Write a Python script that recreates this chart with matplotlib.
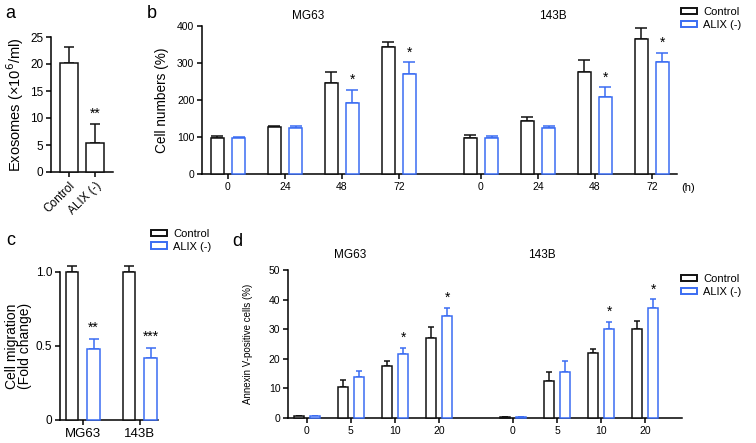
import matplotlib
matplotlib.use("Agg")
import matplotlib.pyplot as plt
import numpy as np
from matplotlib.patches import Patch
from matplotlib.transforms import blended_transform_factory

plt.rcParams["font.family"] = ["Liberation Sans", "DejaVu Sans"]
plt.rcParams["font.size"] = 8

W, H = 756, 443
BLUE = "#3a6cf2"
BLACK = "#111111"

# panel a
exo_labels = ["Control", "ALIX (-)"]
exo_mean = [20.2, 5.4]
exo_err = [2.9, 3.4]

# panel b
hours = ["0", "24", "48", "72"]
b_mg63_ctrl = [98, 126, 247, 344]
b_mg63_ctrl_err = [5, 5, 29, 14]
b_mg63_alix = [98, 124, 192, 270]
b_mg63_alix_err = [3, 5, 36, 32]
b_143b_ctrl = [98, 144, 277, 366]
b_143b_ctrl_err = [7, 10, 30, 29]
b_143b_alix = [98, 123, 207, 302]
b_143b_alix_err = [5, 8, 27, 25]

# panel c
c_lines = ["MG63", "143B"]
c_ctrl = [1.0, 1.0]
c_ctrl_err = [0.04, 0.04]
c_alix = [0.48, 0.42]
c_alix_err = [0.067, 0.068]
c_stars = ["**", "***"]

# panel d
doses = ["0", "5", "10", "20"]
d_mg63_ctrl = [0.8, 10.4, 17.4, 27.0]
d_mg63_ctrl_err = [0.0, 2.6, 1.7, 3.6]
d_mg63_alix = [0.8, 14.0, 21.5, 34.6]
d_mg63_alix_err = [0.0, 2.0, 2.3, 2.5]
d_143b_ctrl = [0.5, 12.5, 22.0, 30.0]
d_143b_ctrl_err = [0.0, 2.9, 1.4, 2.7]
d_143b_alix = [0.5, 15.4, 30.2, 37.2]
d_143b_alix_err = [0.0, 3.8, 2.3, 2.9]


def px_axes(fig, x0, y0, x1, y1):
    return fig.add_axes([x0 / W, 1 - y1 / H, (x1 - x0) / W, (y1 - y0) / H])


def style(ax, labelsize):
    for s in ("top", "right"):
        ax.spines[s].set_visible(False)
    for s in ("left", "bottom"):
        ax.spines[s].set_linewidth(1.1)
    ax.tick_params(width=1.1, length=3.5, labelsize=labelsize, pad=2)


def bars(ax, x, y, err, color, width, cap):
    ax.bar(x, y, width=width, facecolor="white", edgecolor=color, linewidth=1.1, clip_on=False, zorder=3)
    err = np.asarray(err)
    ax.errorbar(x, y, yerr=[np.zeros_like(err), err], fmt="none", ecolor=color,
                elinewidth=1.1, capsize=cap, capthick=1.1, clip_on=False, zorder=2)


def legend(fig, x, y):
    handles = [Patch(facecolor="white", edgecolor=BLACK, linewidth=1.4, label="Control"),
               Patch(facecolor="white", edgecolor=BLUE, linewidth=1.4, label="ALIX (-)")]
    fig.legend(handles=handles, loc="upper left", bbox_to_anchor=(x / W, 1 - y / H), frameon=False,
               fontsize=8, handlelength=1.4, handleheight=0.55, handletextpad=0.6,
               labelspacing=0.25, borderaxespad=0, borderpad=0)


fig = plt.figure(figsize=(W / 100, H / 100), dpi=100)

# ---- a
ax = px_axes(fig, 51, 37, 113, 172)
style(ax, 8.5)
xa = np.arange(len(exo_mean))
bars(ax, xa, exo_mean, exo_err, BLACK, 0.68, 3.3)
ax.set_xlim(-0.7, 1.7)
ax.set_ylim(0, 25)
ax.set_yticks(range(0, 26, 5))
ax.set_xticks(xa)
ax.set_xticklabels(exo_labels, rotation=45, ha="right", rotation_mode="anchor")
ax.set_ylabel("Exosomes (×10$^{6}$/ml)", fontsize=10.5, labelpad=3)
ax.text(xa[1], exo_mean[1] + exo_err[1] + 0.6, "**", ha="center", va="bottom", fontsize=10)

# ---- b
ax = px_axes(fig, 202, 26, 677, 174)
style(ax, 7.5)
xb1 = np.arange(4)
xb2 = xb1 + 4.44
off, wb = 0.185, 0.23
bars(ax, xb1 - off, b_mg63_ctrl, b_mg63_ctrl_err, BLACK, wb, 4)
bars(ax, xb1 + off, b_mg63_alix, b_mg63_alix_err, BLUE, wb, 4)
bars(ax, xb2 - off, b_143b_ctrl, b_143b_ctrl_err, BLACK, wb, 4)
bars(ax, xb2 + off, b_143b_alix, b_143b_alix_err, BLUE, wb, 4)
for xs, ys, es in ((xb1, b_mg63_alix, b_mg63_alix_err), (xb2, b_143b_alix, b_143b_alix_err)):
    for i in (2, 3):
        ax.text(xs[i] + off, ys[i] + es[i] + 8, "*", ha="center", va="bottom", fontsize=10)
ax.set_xlim(-0.456, 7.88)
ax.set_ylim(0, 400)
ax.set_yticks(range(0, 401, 100))
ax.set_xticks(np.concatenate([xb1, xb2]))
ax.set_xticklabels(hours + hours)
ax.set_ylabel("Cell numbers (%)", fontsize=9.8, labelpad=6)
tr = blended_transform_factory(ax.transData, ax.transAxes)
ax.text(1.4, 1.07, "MG63", transform=tr, ha="center", va="center", fontsize=8.5)
ax.text(5.7, 1.07, "143B", transform=tr, ha="center", va="center", fontsize=8.5)
ax.text(7.95, -0.095, "(h)", transform=tr, ha="left", va="center", fontsize=8)
legend(fig, 681, 7)

# ---- c
ax = px_axes(fig, 60, 272, 158, 420)
style(ax, 8.5)
xc = np.arange(2)
bars(ax, xc - 0.19, c_ctrl, c_ctrl_err, BLACK, 0.22, 3.3)
bars(ax, xc + 0.19, c_alix, c_alix_err, BLUE, 0.22, 3.3)
for i in range(2):
    ax.text(xc[i] + 0.19, c_alix[i] + c_alix_err[i] + 0.03, c_stars[i], ha="center", va="bottom", fontsize=10)
ax.set_xlim(-0.40, 1.32)
ax.set_ylim(0, 1.0)
ax.set_yticks([0, 0.5, 1.0])
ax.set_yticklabels(["0", "0.5", "1.0"])
ax.set_xticks(xc)
ax.set_xticklabels(c_lines, fontsize=9.5)
ax.set_ylabel("Cell migration\n(Fold change)", fontsize=10, labelpad=3, linespacing=0.9)
legend(fig, 151, 229)

# ---- d
ax = px_axes(fig, 288, 270, 682, 418)
style(ax, 7.5)
xd1 = np.arange(4)
xd2 = xd1 + 4.68
off, wd = 0.19, 0.23
bars(ax, xd1 - off, d_mg63_ctrl, d_mg63_ctrl_err, BLACK, wd, 2.3)
bars(ax, xd1 + off, d_mg63_alix, d_mg63_alix_err, BLUE, wd, 2.3)
bars(ax, xd2 - off, d_143b_ctrl, d_143b_ctrl_err, BLACK, wd, 2.3)
bars(ax, xd2 + off, d_143b_alix, d_143b_alix_err, BLUE, wd, 2.3)
for xs, ys, es in ((xd1, d_mg63_alix, d_mg63_alix_err), (xd2, d_143b_alix, d_143b_alix_err)):
    for i in (2, 3):
        ax.text(xs[i] + off, ys[i] + es[i] + 1.0, "*", ha="center", va="bottom", fontsize=10)
ax.set_xlim(-0.43, 8.52)
ax.set_ylim(0, 50)
ax.set_yticks(range(0, 51, 10))
ax.set_xticks(np.concatenate([xd1, xd2]))
ax.set_xticklabels(doses + doses)
ax.set_ylabel("Annexin V-positive cells (%)", fontsize=7, labelpad=11)
tr = blended_transform_factory(ax.transData, ax.transAxes)
ax.text(0.98, 1.10, "MG63", transform=tr, ha="center", va="center", fontsize=8.5)
ax.text(5.34, 1.10, "143B", transform=tr, ha="center", va="center", fontsize=8.5)
legend(fig, 681, 274)

# panel letters
for letter, x, y in (("a", 10, 14), ("b", 152, 13), ("c", 11, 240), ("d", 237, 242)):
    fig.text(x / W, 1 - y / H, letter, ha="center", va="center", fontsize=13)

fig.savefig("out.png", dpi=100)
